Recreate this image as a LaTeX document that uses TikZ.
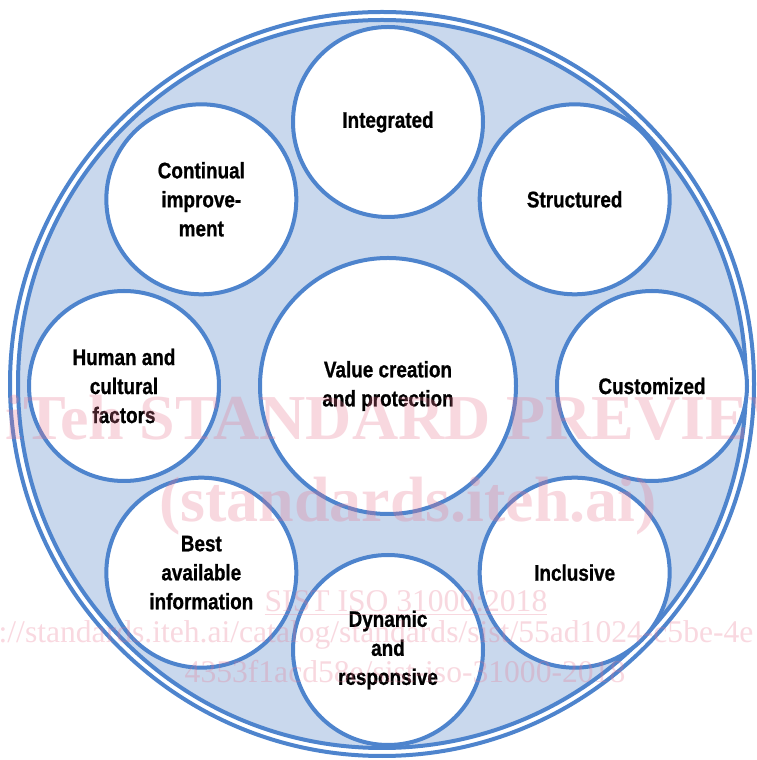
\documentclass[tikz,border=0pt]{standalone}
\usepackage{fontspec}
\setmainfont{Liberation Sans}[FakeStretch=0.84, BoldFeatures={FakeBold=0.8}]
\newfontfamily\wmfont{Liberation Serif}
\usetikzlibrary{calc}
\definecolor{RingBlue}{HTML}{4E84CD}
\definecolor{RingFill}{HTML}{C9D8ED}
\definecolor{WaterPink}{HTML}{E8748F}

\begin{document}
\begin{tikzpicture}[x=1pt, y=1pt,
                    every node/.style={circle, align=center,
                                       font=\bfseries\fontsize{22.5}{29}\selectfont},
                    principle/.style={draw=RingBlue, line width=4pt,
                                      minimum size=190pt, inner sep=0pt},
                    core/.style={principle, minimum size=256pt},
                    watermark/.style={rectangle, inner sep=0pt, anchor=base,
                                      text=WaterPink, text opacity=0.28}]
\useasboundingbox (0,0) rectangle (757,760);
\coordinate (rim) at (382,376);
\coordinate (hub) at (388,374);

% outer double ring
\fill[RingFill] (rim) circle (364);
\draw[RingBlue, line width=4pt] (rim) circle (372) (rim) circle (364);

% white discs first, so every outline stays visible where circles overlap
\foreach \a in {0,45,...,315}
  \fill[white] ($(hub)+(\a:264)$) circle (95);
\fill[white] (hub) circle (128);

\node[core] (value) at (hub) {Value creation\\and protection};
\node[principle] (integ)  at ($(hub)+(90:264)$)  {Integrated};
\node[principle] (struct) at ($(hub)+(45:264)$)  {Structured};
\node[principle] (custom) at ($(hub)+(0:264)$)   {Customized};
\node[principle] (incl)   at ($(hub)+(-45:264)$) {Inclusive};
\node[principle] (dyn)    at ($(hub)+(-90:264)$) {Dynamic\\and\\responsive};
\node[principle] (best)   at ($(hub)+(-135:264)$) {Best\\available\\information};
\node[principle] (human)  at ($(hub)+(180:264)$) {Human and\\cultural\\factors};
\node[principle] (contin) at ($(hub)+(135:264)$) {Continual\\improve-\\ment};

% preview stamp
\node[watermark, font=\wmfont\bfseries\fontsize{64}{64}\selectfont] (wmtitle)
  at (409,320) {iTeh STANDARD PREVIEW};
\node[watermark, font=\wmfont\bfseries\fontsize{64}{64}\selectfont] (wmsite)
  at (408,238) {(standards.iteh.ai)};
\node[watermark, font=\wmfont\fontsize{31.6}{32}\selectfont] (wmcode)
  at (406,148) {\underline{SIST ISO 31000:2018}};
\node[watermark, anchor=base west, font=\wmfont\fontsize{31.6}{32}\selectfont] (wmurl)
  at (-63,117) {https://standards.iteh.ai/catalog/standards/sist/55ad1024-c5be-4e};
\node[watermark, font=\wmfont\fontsize{31.6}{32}\selectfont] (wmfile)
  at (405,77) {4353f1acd58e/sist-iso-31000-2018};
\end{tikzpicture}
\end{document}
